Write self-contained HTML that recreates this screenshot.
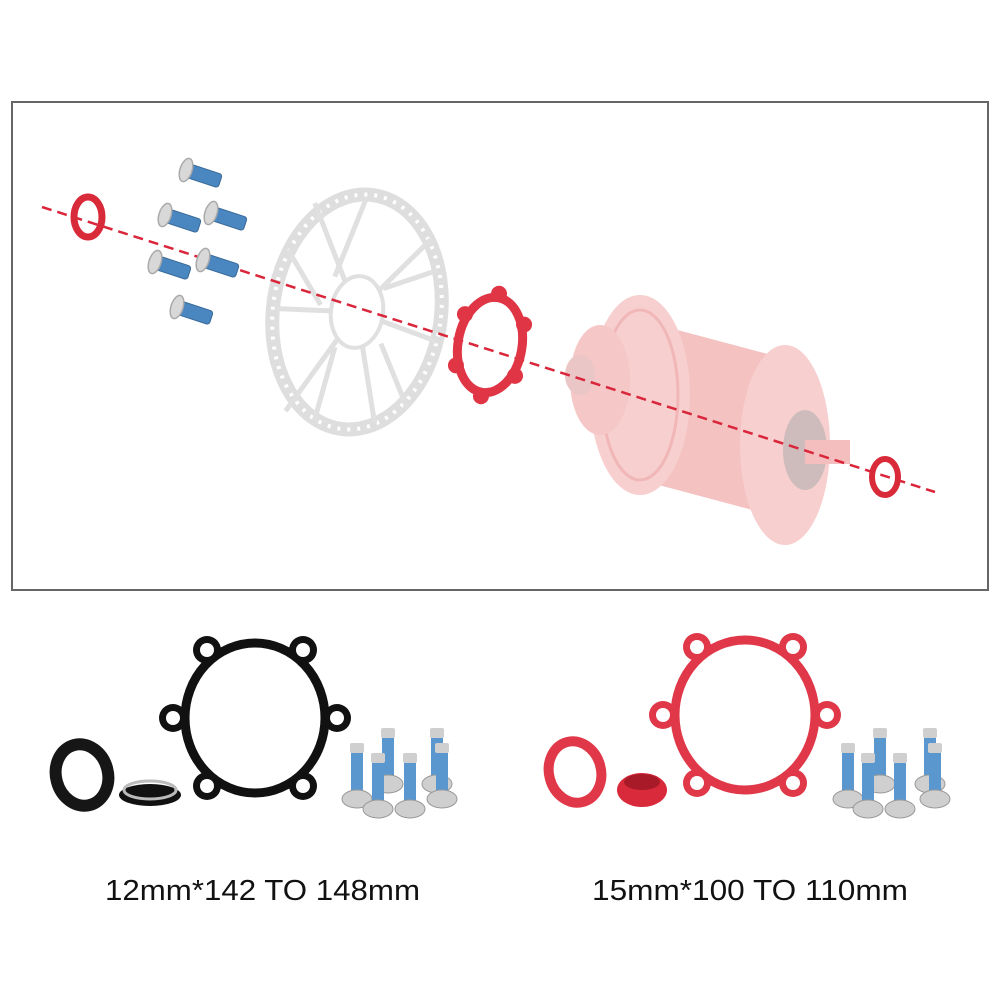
<!DOCTYPE html>
<html><head><meta charset="utf-8"><style>
html,body{margin:0;padding:0;background:#fff;width:1000px;height:1000px;overflow:hidden}
</style></head><body>
<svg width="1000" height="1000" viewBox="0 0 1000 1000" xmlns="http://www.w3.org/2000/svg">
<defs>
<g id="bolt">
  <rect x="0" y="-7" width="36" height="14" rx="3" fill="#4a86c0"/>
  <rect x="0" y="-7" width="36" height="14" rx="3" fill="none" stroke="#3a6a99" stroke-width="1"/>
  <ellipse cx="0" cy="0" rx="6" ry="12" fill="#d8d8d8" stroke="#aaa" stroke-width="1.5"/>
</g>
<g id="vbolt">
  <rect x="-6" y="-45" width="12" height="45" rx="2" fill="#5b97cf"/>
  <rect x="-7" y="-52" width="14" height="10" rx="2" fill="#cfcfcf"/>
  <ellipse cx="0" cy="4" rx="15" ry="9" fill="#cfcfcf" stroke="#999" stroke-width="1"/>
</g>
</defs>
<rect x="12" y="102" width="976" height="488" fill="#fff" stroke="#666" stroke-width="2"/>

<!-- hub (faded) -->
<g opacity="0.9">
  <path d="M640 320 L790 360 L790 520 L640 480 Z" fill="#f4bcbc"/>
  <ellipse cx="640" cy="395" rx="50" ry="100" fill="#f7caca"/>
  <ellipse cx="640" cy="395" rx="38" ry="85" fill="none" stroke="#f0b0b0" stroke-width="3"/>
  <ellipse cx="600" cy="380" rx="30" ry="55" fill="#f5c2c2"/>
  <ellipse cx="785" cy="445" rx="45" ry="100" fill="#f7caca"/>
  <ellipse cx="805" cy="450" rx="22" ry="40" fill="#c9b5b5"/>
  <rect x="805" y="440" width="45" height="24" fill="#f4b8b8"/>
  <ellipse cx="580" cy="375" rx="15" ry="20" fill="#e8c0c0"/>
</g>

<!-- rotor -->
<g transform="rotate(8 357 312)">
  <ellipse cx="357" cy="312" rx="84" ry="118" fill="none" stroke="#dedede" stroke-width="14"/>
  <ellipse cx="357" cy="312" rx="84" ry="118" fill="none" stroke="#fff" stroke-width="4" stroke-dasharray="3 7"/>
  <g stroke="#e0e0e0" stroke-width="5" fill="none">
    <path d="M357 312 L300 210 M357 312 L420 230 M357 312 L440 330 M357 312 L390 420 M357 312 L300 420 M357 312 L275 320"/>
    <path d="M330 280 L350 200 M380 285 L430 260 M385 340 L420 400 M340 350 L330 425 M320 310 L280 260"/>
  </g>
  <ellipse cx="357" cy="312" rx="26" ry="36" fill="#fff" stroke="#e0e0e0" stroke-width="4"/>
</g>

<!-- dashed axis -->
<line x1="42" y1="207" x2="935" y2="492" stroke="#d9263a" stroke-width="2.5" stroke-dasharray="10 6"/>

<!-- left ring -->
<ellipse cx="88" cy="217" rx="14" ry="20" fill="none" stroke="#d92a3a" stroke-width="7"/>
<!-- right ring -->
<ellipse cx="885" cy="477" rx="13" ry="18" fill="none" stroke="#d92a3a" stroke-width="6"/>

<!-- bolts -->
<use href="#bolt" transform="translate(186,170) rotate(18)"/>
<use href="#bolt" transform="translate(165,215) rotate(18)"/>
<use href="#bolt" transform="translate(211,213) rotate(18)"/>
<use href="#bolt" transform="translate(155,262) rotate(18)"/>
<use href="#bolt" transform="translate(203,260) rotate(18)"/>
<use href="#bolt" transform="translate(177,307) rotate(18)"/>

<!-- small red adapter -->
<g transform="translate(490,345) rotate(10)">
  <ellipse cx="0" cy="0" rx="32" ry="48" fill="none" stroke="#df3545" stroke-width="9"/>
  <g fill="#df3545">
    <circle cx="0" cy="-52" r="8"/><circle cx="30" cy="-26" r="8"/><circle cx="30" cy="26" r="8"/>
    <circle cx="0" cy="52" r="8"/><circle cx="-30" cy="26" r="8"/><circle cx="-30" cy="-26" r="8"/>
  </g>
</g>

<!-- bottom left: black set -->
<g transform="translate(255,718)">
  <ellipse cx="0" cy="0" rx="70" ry="75" fill="none" stroke="#111" stroke-width="9"/>
  <g fill="#111">
    <circle cx="-48" cy="-68" r="14"/><circle cx="48" cy="-68" r="14"/>
    <circle cx="82" cy="0" r="14"/><circle cx="48" cy="68" r="14"/>
    <circle cx="-48" cy="68" r="14"/><circle cx="-82" cy="0" r="14"/>
  </g>
  <g fill="#fff">
    <circle cx="-48" cy="-68" r="7"/><circle cx="48" cy="-68" r="7"/>
    <circle cx="82" cy="0" r="7"/><circle cx="48" cy="68" r="7"/>
    <circle cx="-48" cy="68" r="7"/><circle cx="-82" cy="0" r="7"/>
  </g>
</g>
<ellipse cx="82" cy="775" rx="26" ry="31" fill="none" stroke="#161616" stroke-width="12" transform="rotate(-15 82 775)"/>
<ellipse cx="150" cy="795" rx="31" ry="11" fill="#111"/>
<ellipse cx="150" cy="790" rx="26" ry="9" fill="none" stroke="#bbb" stroke-width="3"/>
<use href="#vbolt" transform="translate(357,795)"/>
<use href="#vbolt" transform="translate(388,780)"/>
<use href="#vbolt" transform="translate(437,780)"/>
<use href="#vbolt" transform="translate(378,805)"/>
<use href="#vbolt" transform="translate(410,805)"/>
<use href="#vbolt" transform="translate(442,795)"/>

<!-- bottom right: red set -->
<g transform="translate(745,715)">
  <ellipse cx="0" cy="0" rx="70" ry="75" fill="none" stroke="#e03848" stroke-width="9"/>
  <g fill="#e03848">
    <circle cx="-48" cy="-68" r="14"/><circle cx="48" cy="-68" r="14"/>
    <circle cx="82" cy="0" r="14"/><circle cx="48" cy="68" r="14"/>
    <circle cx="-48" cy="68" r="14"/><circle cx="-82" cy="0" r="14"/>
  </g>
  <g fill="#fff">
    <circle cx="-48" cy="-68" r="7"/><circle cx="48" cy="-68" r="7"/>
    <circle cx="82" cy="0" r="7"/><circle cx="48" cy="68" r="7"/>
    <circle cx="-48" cy="68" r="7"/><circle cx="-82" cy="0" r="7"/>
  </g>
</g>
<ellipse cx="575" cy="772" rx="26" ry="31" fill="none" stroke="#e03848" stroke-width="10" transform="rotate(-15 575 772)"/>
<ellipse cx="642" cy="790" rx="25" ry="17" fill="#d82a3a"/>
<ellipse cx="642" cy="782" rx="18" ry="8" fill="#a81a28"/>
<use href="#vbolt" transform="translate(848,795)"/>
<use href="#vbolt" transform="translate(880,780)"/>
<use href="#vbolt" transform="translate(930,780)"/>
<use href="#vbolt" transform="translate(868,805)"/>
<use href="#vbolt" transform="translate(900,805)"/>
<use href="#vbolt" transform="translate(935,795)"/>

<!-- labels -->
<text x="105" y="900" font-family="Liberation Sans, sans-serif" font-size="29" fill="#111" textLength="315" lengthAdjust="spacingAndGlyphs">12mm*142 TO 148mm</text>
<text x="592" y="900" font-family="Liberation Sans, sans-serif" font-size="29" fill="#111" textLength="316" lengthAdjust="spacingAndGlyphs">15mm*100 TO 110mm</text>
</svg>
</body></html>
